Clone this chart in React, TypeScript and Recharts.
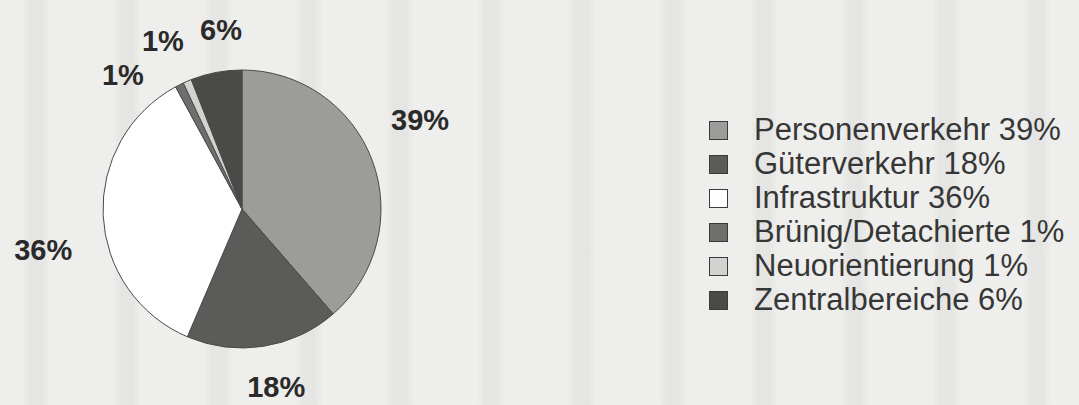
import React from "react";
import { Pie, PieChart, Cell, Legend } from "recharts";

const categories = [
  "Personenverkehr",
  "Güterverkehr",
  "Infrastruktur",
  "Brünig/Detachierte",
  "Neuorientierung",
  "Zentralbereiche"
];
const shares = [39, 18, 36, 1, 1, 6];
const colors = ["#9c9c9a", "#5b5b59", "#ffffff", "#6e6e6c", "#d2d2d0", "#4a4a48"];

// label placement tweaks: extra radius beyond the pie, and angle nudge in degrees
const labelRadius = [60, 42, 64, 40, 47, 41];
const labelNudge = [6, 2, 9, 15, 2, -4];

const data = categories.map((name, i) => ({ name, value: shares[i] }));
const RAD = Math.PI / 180;

const renderLabel = (props: any) => {
  const { cx, cy, midAngle, outerRadius, index, value } = props;
  const r = outerRadius + labelRadius[index];
  const a = (midAngle + labelNudge[index]) * RAD;
  const x = cx + r * Math.cos(-a);
  const y = cy + r * Math.sin(-a);
  return (
    <text
      x={x}
      y={y}
      textAnchor="middle"
      dominantBaseline="central"
      fill="#2a2a2a"
      fontSize={29}
      fontWeight={700}
      fontFamily="Liberation Sans, Arial, sans-serif"
    >
      {value}%
    </text>
  );
};

const LegendBox = () => (
  <div style={{ fontFamily: "Liberation Sans, Arial, sans-serif" }}>
    {data.map((d, i) => (
      <div key={d.name} style={{ display: "flex", alignItems: "center", height: 34 }}>
        <span
          style={{
            display: "inline-block",
            width: 19,
            height: 19,
            background: colors[i],
            border: "1.5px solid #3a3a3a",
            boxSizing: "border-box",
            marginRight: 26
          }}
        />
        <span style={{ fontSize: 31, color: "#363636", whiteSpace: "nowrap" }}>
          {d.name} {d.value}%
        </span>
      </div>
    ))}
  </div>
);

export default function App() {
  return (
    <div
      style={{
        position: "absolute",
        left: 0,
        top: 0,
        width: 1079,
        height: 405,
        overflow: "hidden",
        backgroundColor: "#eeeeec",
        backgroundImage:
          "repeating-linear-gradient(90deg, #eeeeec 0px, #eeeeec 22px, #e5e5e3 30px, #e5e5e3 42px, #eeeeec 50px, #eeeeec 91px)"
      }}
    >
      <PieChart width={1079} height={405} margin={{ top: 0, right: 0, bottom: 0, left: 0 }}>
        <Pie
          data={data}
          dataKey="value"
          nameKey="name"
          cx={242}
          cy={209}
          outerRadius={139}
          startAngle={90}
          endAngle={-270}
          stroke="#4a4a48"
          strokeWidth={1}
          label={renderLabel}
          labelLine={false}
          isAnimationActive={false}
        >
          {data.map((d, i) => (
            <Cell key={d.name} fill={colors[i]} />
          ))}
        </Pie>
        <Legend
          content={() => <LegendBox />}
          wrapperStyle={{ position: "absolute", left: 709, top: 113, width: 370 }}
        />
      </PieChart>
    </div>
  );
}
